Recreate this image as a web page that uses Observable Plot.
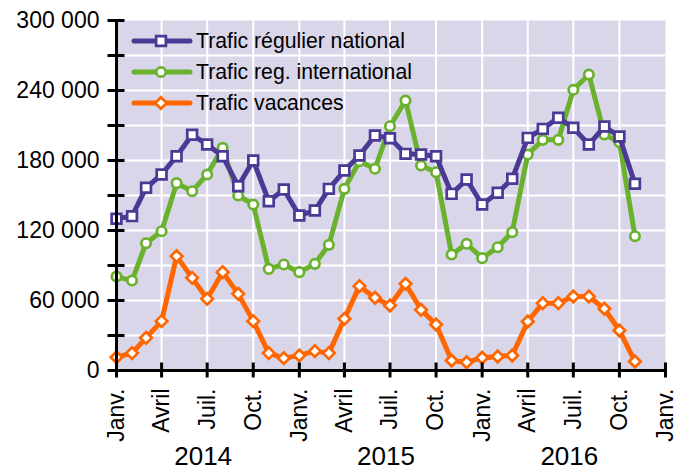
<!DOCTYPE html>
<html><head><meta charset="utf-8">
<script src="https://cdn.jsdelivr.net/npm/d3@7"></script>
<script src="https://cdn.jsdelivr.net/npm/@observablehq/plot@0.6"></script>
<style>
html,body{margin:0;padding:0;background:#fff;}
#wrap{position:relative;width:689px;height:472px;font-family:"Liberation Sans",Arial,sans-serif;}
#wrap svg{display:block;}
#legend{position:absolute;left:0;top:0;pointer-events:none;}
</style></head><body><div id="wrap"></div>
<script>
// ---- data ----
const months = ["2014-01","2014-02","2014-03","2014-04","2014-05","2014-06","2014-07","2014-08","2014-09","2014-10","2014-11","2014-12",
  "2015-01","2015-02","2015-03","2015-04","2015-05","2015-06","2015-07","2015-08","2015-09","2015-10","2015-11","2015-12",
  "2016-01","2016-02","2016-03","2016-04","2016-05","2016-06","2016-07","2016-08","2016-09","2016-10","2016-11"];
const national = [130000,132300,156600,168000,183700,202000,193700,183700,158000,180000,145100,155100,
  132900,137100,155700,171400,184300,201400,199100,185700,185100,183700,151400,163700,
  142300,152300,164300,199400,207100,216600,208000,193700,209100,200600,160000];
const international = [80500,77100,109100,119400,160600,153700,168000,190900,150000,142300,87100,90900,
  84300,91400,107700,155700,179400,172900,209400,231400,175700,170000,99400,108600,
  96300,105700,118600,185100,197700,197700,240600,253700,202300,195700,115100];
const vacances = [11400,14900,28000,42300,98000,79400,61400,84300,65700,42300,14900,10600,
  12900,16600,14900,44300,72300,62300,55700,74300,52000,39400,8600,7100,
  10900,12000,12900,42000,57700,57700,63400,63400,52900,34300,7700];
const seriesNames = ["Trafic régulier national","Trafic reg. international","Trafic vacances"];
const seriesColors = ["#4a3995","#6ab22e","#ff6600"];
const seriesSymbols = ["square","circle","diamond2"];
const xTicks = ["2014-01","2014-04","2014-07","2014-10","2015-01","2015-04","2015-07","2015-10","2016-01","2016-04","2016-07","2016-10","2017-01"];
const xTickLabels = ["Janv.","Avril","Juil.","Oct.","Janv.","Avril","Juil.","Oct.","Janv.","Avril","Juil.","Oct.","Janv."];
const yearLabels = ["2014","2015","2016"];
const yLabelTicks = [0,60000,120000,180000,240000,300000];
const yMinorTicks = [0,30000,60000,90000,120000,150000,180000,210000,240000,270000,300000];

// ---- build ----
const parse = d3.utcParse("%Y-%m");
const dates = months.map(parse);
const xTickDates = xTicks.map(parse);
const xDomain = [xTickDates[0], xTickDates[xTickDates.length - 1]];
const tickLabelMap = new Map(xTickDates.map((d, i) => [+d, xTickLabels[i]]));
const valuesList = [national, international, vacances];
const rows = valuesList.map((vals, s) => vals.map((v, i) => ({date: dates[i], value: v, series: s})));
const radii = {square: 5.5, circle: 4.7, diamond2: 5.2};
const bg = "#d9d6e9";
const fmt = d => d3.format(",")(d).replace(/,/g, " ");

function seriesMarks(s) {
  return [
    Plot.line(rows[s], {x: "date", y: "value", stroke: seriesColors[s], strokeWidth: 5, strokeLinejoin: "round", strokeLinecap: "round"}),
    Plot.dot(rows[s], {x: "date", y: "value", symbol: seriesSymbols[s], r: radii[seriesSymbols[s]], fill: "#fff", stroke: seriesColors[s], strokeWidth: 2.7})
  ];
}

const chart = Plot.plot({
  width: 689, height: 472,
  marginLeft: 116, marginRight: 24, marginTop: 20, marginBottom: 102,
  style: {fontFamily: "'Liberation Sans', Arial, sans-serif", fontSize: "23px", color: "#000", background: "transparent", overflow: "visible"},
  x: {type: "utc", domain: xDomain},
  y: {domain: [0, 300000]},
  marks: [
    Plot.frame({fill: bg, stroke: null}),
    Plot.gridY(yMinorTicks.filter(v => v > 0 && v < 300000), {stroke: "#fff", strokeOpacity: 1, strokeWidth: 2}),
    Plot.gridX(xTickDates.slice(1, -1), {stroke: "#fff", strokeOpacity: 1, strokeWidth: 2}),
    ...seriesMarks(1),
    ...seriesMarks(0),
    ...seriesMarks(2),
    Plot.ruleX([xDomain[0]], {stroke: "#000", strokeWidth: 3}),
    Plot.ruleY([0], {stroke: "#000", strokeWidth: 3}),
    Plot.ruleY(yMinorTicks, {x1: () => xDomain[0], x2: () => xDomain[0], insetLeft: -8.5, insetRight: -8.5, stroke: "#000", strokeWidth: 3}),
    Plot.ruleX(xTickDates, {y1: () => 0, y2: () => 0, insetTop: -7.5, insetBottom: -7.5, stroke: "#000", strokeWidth: 3}),
    Plot.axisY(yLabelTicks, {tickSize: 0, tickPadding: 17, tickFormat: fmt, fontSize: 23, label: null}),
    Plot.axisX(xTickDates, {tickSize: 0, tickRotate: -90, tickPadding: 18, tickFormat: d => tickLabelMap.get(+d), fontSize: 23, label: null}),
    Plot.text(yearLabels, {x: d => new Date(Date.UTC(+d, 6, 1)), text: d => d, frameAnchor: "bottom", dy: 86, fontSize: 26, lineAnchor: "middle", dx: -4})
  ]
});
const wrap = document.getElementById("wrap");
wrap.appendChild(chart);

// ---- legend (overlay) ----
const leg = d3.select(wrap).append("svg").attr("id", "legend").attr("width", 689).attr("height", 472);
const legX0 = 134, legX1 = 190, legMark = 161, legText = 196, legY0 = 41, legDy = 31;
seriesNames.forEach((name, s) => {
  const y = legY0 + s * legDy;
  const g = leg.append("g");
  g.append("line").attr("x1", legX0).attr("x2", legX1).attr("y1", y).attr("y2", y)
    .attr("stroke", seriesColors[s]).attr("stroke-width", 5).attr("stroke-linecap", "round");
  const sym = {square: d3.symbolSquare, circle: d3.symbolCircle, diamond2: d3.symbolDiamond2}[seriesSymbols[s]];
  const r = radii[seriesSymbols[s]];
  g.append("path").attr("d", d3.symbol(sym, Math.PI * r * r)()).attr("transform", `translate(${legMark},${y})`)
    .attr("fill", "#fff").attr("stroke", seriesColors[s]).attr("stroke-width", 2.7);
  g.append("text").attr("x", legText).attr("y", y).attr("dy", "0.35em")
    .attr("font-family", "'Liberation Sans', Arial, sans-serif").attr("font-size", 21.2).attr("fill", "#000").text(name);
});
</script></body></html>
